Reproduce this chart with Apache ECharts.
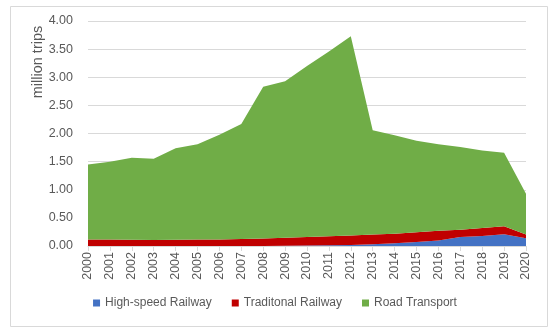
<!DOCTYPE html>
<html>
<head>
<meta charset="utf-8">
<script src="https://cdn.jsdelivr.net/npm/echarts@6/dist/echarts.min.js"></script>
<style>html,body{margin:0;padding:0;background:#fff}#c{width:550px;height:332px}</style>
</head>
<body>
<div id="c"></div>
<script>
const years = ['2000','2001','2002','2003','2004','2005','2006','2007','2008','2009','2010','2011','2012','2013','2014','2015','2016','2017','2018','2019','2020'];
const highSpeed = [0,0,0,0,0,0,0,0,0.002,0.005,0.01,0.015,0.02,0.03,0.05,0.07,0.10,0.16,0.18,0.21,0.14];
const traditional = [0.115,0.115,0.11,0.105,0.11,0.115,0.115,0.125,0.13,0.14,0.15,0.16,0.165,0.175,0.17,0.175,0.17,0.13,0.14,0.14,0.065];
const road = [1.335,1.385,1.46,1.445,1.63,1.695,1.865,2.045,2.70,2.785,3.04,3.285,3.545,1.855,1.75,1.625,1.54,1.47,1.38,1.31,0.725];
const yTicks = [0,0.5,1,1.5,2,2.5,3,3.5,4];

const font = 'Liberation Sans, Arial, sans-serif';
const chart = echarts.init(document.getElementById('c'), null, {renderer:'canvas'});
function mk(name, data, color){
  return {name, type:'line', stack:'t', data, symbol:'none', lineStyle:{width:0}, areaStyle:{color, opacity:1}, itemStyle:{color}, emphasis:{disabled:true}};
}
chart.setOption({
  animation:false,
  grid:{left:88,right:24,top:21,bottom:86},
  legend:{bottom:18,left:'center',itemWidth:7,itemHeight:7,itemGap:20,icon:'rect',
    textStyle:{color:'#595959',fontSize:12,fontFamily:font},
    data:['High-speed Railway','Traditonal Railway','Road Transport']},
  xAxis:{type:'category',boundaryGap:false,data:years,
    axisLine:{lineStyle:{color:'#d9d9d9'}},
    axisTick:{show:true,alignWithLabel:true,lineStyle:{color:'#d9d9d9'},length:5},
    axisLabel:{rotate:90,color:'#595959',fontSize:12.5,fontFamily:font,margin:6,interval:0}},
  yAxis:{type:'value',min:yTicks[0],max:yTicks[yTicks.length-1],interval:0.5,
    axisLine:{show:false},axisTick:{show:false},
    splitLine:{lineStyle:{color:'#d9d9d9'}},
    axisLabel:{color:'#595959',fontSize:12.5,fontFamily:font,margin:15,formatter:v=>v.toFixed(2)}},
  graphic:[
    {type:'rect',left:8,top:4,shape:{width:537,height:320},style:{fill:'none',stroke:'#d9d9d9',lineWidth:1},silent:true},
    {type:'text',x:38,y:62,rotation:Math.PI/2,style:{text:'million trips',fill:'#595959',fontSize:14.5,fontFamily:font,align:'center',verticalAlign:'middle'}}
  ],
  series:[
    mk('High-speed Railway',highSpeed,'#4472C4'),
    mk('Traditonal Railway',traditional,'#C00000'),
    mk('Road Transport',road,'#70AD47')
  ]
});
</script>
</body>
</html>
